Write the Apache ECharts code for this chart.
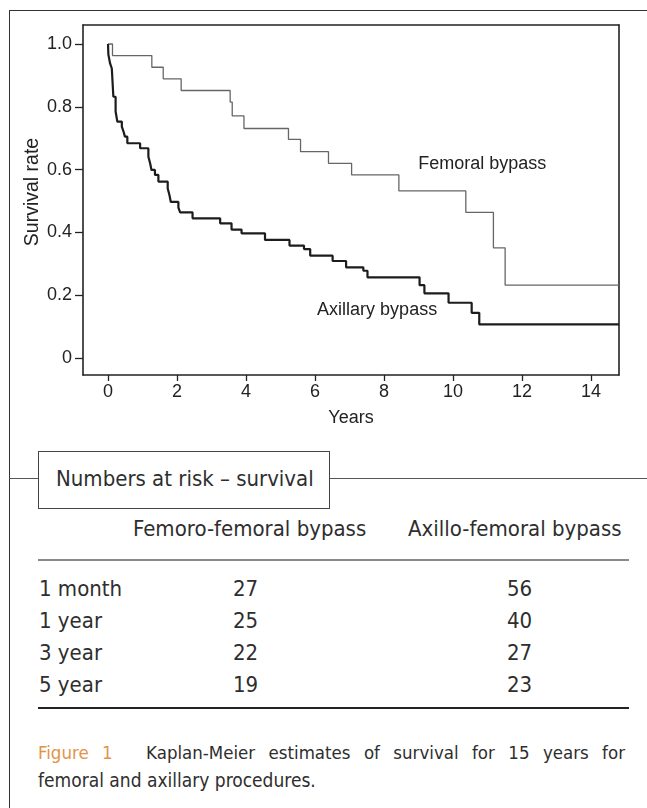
<!DOCTYPE html>
<html><head><meta charset="utf-8">
<script src="https://cdn.jsdelivr.net/npm/echarts@6/dist/echarts.min.js"></script>
<style>
html,body{margin:0;padding:0;background:#fff;}
#wrap{position:relative;width:647px;height:808px;overflow:hidden;background:#fff;}
#chart{position:absolute;left:0;top:0;width:647px;height:440px;}
.ln{position:absolute;background:#333;}
.t{position:absolute;font-family:'DejaVu Sans Condensed','DejaVu Sans',sans-serif;font-stretch:condensed;color:#2e2e2e;white-space:nowrap;line-height:1;}
</style></head>
<body>
<div id="wrap">
  <div id="chart"></div>
</div>
<script>
// ---- Data ----
const femoralTimes = [0, 0.13, 1.27, 1.60, 2.12, 3.54, 3.60, 3.94, 5.23, 5.58, 6.39, 7.06, 8.43, 10.37, 11.17, 11.51, 14.81];
const femoralSurv  = [1.0, 0.963, 0.926, 0.889, 0.852, 0.815, 0.771, 0.731, 0.696, 0.657, 0.620, 0.583, 0.532, 0.464, 0.351, 0.232, 0.232];

const axillaryTimes = [0, 0.01, 0.06, 0.11, 0.155, 0.22, 0.27, 0.40, 0.45, 0.49, 0.56, 0.93, 1.17, 1.22, 1.26, 1.36, 1.46, 1.73, 1.78, 1.82, 2.04, 2.09, 2.45, 3.25, 3.58, 3.87, 4.55, 5.26, 5.68, 5.86, 6.51, 6.90, 7.40, 7.52, 9.03, 9.17, 9.87, 10.54, 10.76, 14.81];
const axillarySurv  = [1.0, 0.967, 0.938, 0.922, 0.832, 0.785, 0.753, 0.737, 0.721, 0.705, 0.684, 0.668, 0.641, 0.620, 0.599, 0.583, 0.562, 0.540, 0.519, 0.497, 0.479, 0.464, 0.445, 0.429, 0.409, 0.397, 0.376, 0.358, 0.347, 0.326, 0.309, 0.289, 0.278, 0.257, 0.232, 0.206, 0.176, 0.144, 0.107, 0.107];

const xTicks = [0, 2, 4, 6, 8, 10, 12, 14];
const yTicks = [0, 0.2, 0.4, 0.6, 0.8, 1.0];
const yTickLabels = ['0', '0.2', '0.4', '0.6', '0.8', '1.0'];

const seriesNames = ['Femoral bypass', 'Axillary bypass'];
const labelAnchors = [[8.99, 0.618], [6.06, 0.153]];

const riskTitle = 'Numbers at risk \u2013 survival';
const riskHeaders = ['Femoro-femoral bypass', 'Axillo-femoral bypass'];
const riskLabels = ['1 month', '1 year', '3 year', '5 year'];
const riskFemoral = [27, 25, 22, 19];
const riskAxillary = [56, 40, 27, 23];

const captionLabel = 'Figure 1';
const captionLine1 = 'Kaplan-Meier estimates of survival for 15 years for';
const captionLine2 = 'femoral and axillary procedures.';

// ---- Chart ----
const chart = echarts.init(document.getElementById('chart'), null, {renderer: 'canvas'});
const FONT = 'Liberation Sans';
const zip = (a, b) => a.map((v, i) => [v, b[i]]);
const XMIN = -0.725, XMAX = 14.81, YMIN = -0.054, YMAX = 1.0605;
const frameLine = {show: true, onZero: false, lineStyle: {color: '#222', width: 1.6}};

const option = {
  animation: false,
  backgroundColor: '#fff',
  grid: {left: 83, top: 25, right: 28, bottom: 65},
  xAxis: [{
    type: 'value', min: XMIN, max: XMAX, position: 'bottom',
    axisLine: frameLine,
    axisTick: {show: true, customValues: xTicks, length: 6, lineStyle: {color: '#222', width: 1.3}},
    axisLabel: {customValues: xTicks, fontFamily: FONT, fontSize: 18, color: '#222', margin: 8},
    splitLine: {show: false},
    name: 'Years', nameLocation: 'middle', nameGap: 34,
    nameTextStyle: {fontFamily: FONT, fontSize: 18, color: '#222'}
  }, {
    type: 'value', min: XMIN, max: XMAX, position: 'top',
    axisLine: frameLine, axisTick: {show: false}, axisLabel: {show: false}, splitLine: {show: false}
  }],
  yAxis: [{
    type: 'value', min: YMIN, max: YMAX, position: 'left',
    axisLine: frameLine,
    axisTick: {show: true, customValues: yTicks, length: 8, lineStyle: {color: '#222', width: 1.3}},
    axisLabel: {customValues: yTicks, fontFamily: FONT, fontSize: 18, color: '#222', margin: 11,
      formatter: v => { const i = yTicks.findIndex(t => Math.abs(t - v) < 1e-6); return i >= 0 ? yTickLabels[i] : ''; }},
    splitLine: {show: false},
    name: 'Survival rate', nameLocation: 'middle', nameRotate: 90, nameGap: 40, nameMoveOverlap: false,
    nameTextStyle: {fontFamily: FONT, fontSize: 19.5, color: '#222', padding: [0, 0, 0, 16]}
  }, {
    type: 'value', min: YMIN, max: YMAX, position: 'right',
    axisLine: frameLine, axisTick: {show: false}, axisLabel: {show: false}, splitLine: {show: false}
  }],
  series: [
    {name: seriesNames[0], type: 'line', step: 'end', showSymbol: false, symbol: 'none',
     data: zip(femoralTimes, femoralSurv), lineStyle: {color: '#666', width: 1.3}, z: 3},
    {name: seriesNames[1], type: 'line', step: 'end', showSymbol: false, symbol: 'none',
     data: zip(axillaryTimes, axillarySurv), lineStyle: {color: '#1c1c1c', width: 2.2}, z: 4}
  ]
};
chart.setOption(option);

const graphics = seriesNames.map((n, i) => {
  const p = chart.convertToPixel({xAxisIndex: 0, yAxisIndex: 0}, labelAnchors[i]);
  return {type: 'text', x: p[0], y: p[1], z: 10,
    style: {text: n, fontFamily: FONT, fontSize: 18, fill: '#222', textAlign: 'left', textVerticalAlign: 'middle'}};
});
chart.setOption({graphic: graphics});

// ---- Frame, table and caption ----
const wrap = document.getElementById('wrap');
function line(l, t, w, h, c) {
  const d = document.createElement('div'); d.className = 'ln';
  Object.assign(d.style, {left: l + 'px', top: t + 'px', width: w + 'px', height: h + 'px', background: c || '#333'});
  wrap.appendChild(d);
}
function text(s, l, t, size, extra) {
  const d = document.createElement('div'); d.className = 't';
  d.textContent = s;
  Object.assign(d.style, {left: l + 'px', top: t + 'px', fontSize: size + 'px'}, extra || {});
  wrap.appendChild(d); return d;
}
// outer frame
line(9, 10, 1, 798, '#333');
line(9, 10, 638, 1, '#333');
// section divider with title box
line(9, 478, 29, 1, '#555');
line(329, 478, 318, 1, '#555');
const box = document.createElement('div');
Object.assign(box.style, {position: 'absolute', left: '38px', top: '451px', width: '290px', height: '56px', border: '1px solid #444', background: '#fff'});
wrap.appendChild(box);
text(riskTitle, 56, 468, 22);
// headers
text(riskHeaders[0], 133, 518, 22);
text(riskHeaders[1], 408, 518, 22);
line(38, 559, 591, 2, '#8a8a8a');
riskLabels.forEach((lab, i) => {
  const top = 578 + 32 * i;
  text(lab, 39, top, 22);
  text(String(riskFemoral[i]), 233, top, 22);
  text(String(riskAxillary[i]), 507, top, 22);
});
line(38, 707, 591, 1.5, '#222');
// caption
const cap = document.createElement('div');
cap.className = 't';
Object.assign(cap.style, {left: '38px', top: '744px', width: '587px', fontSize: '18.5px', textAlign: 'justify', textAlignLast: 'justify', whiteSpace: 'normal'});
const fig = document.createElement('span');
fig.textContent = captionLabel;
Object.assign(fig.style, {color: '#e0944a', marginRight: '20px'});
cap.appendChild(fig);
cap.appendChild(document.createTextNode(' ' + captionLine1));
wrap.appendChild(cap);
text(captionLine2, 38, 771, 19);
</script>
</body></html>
